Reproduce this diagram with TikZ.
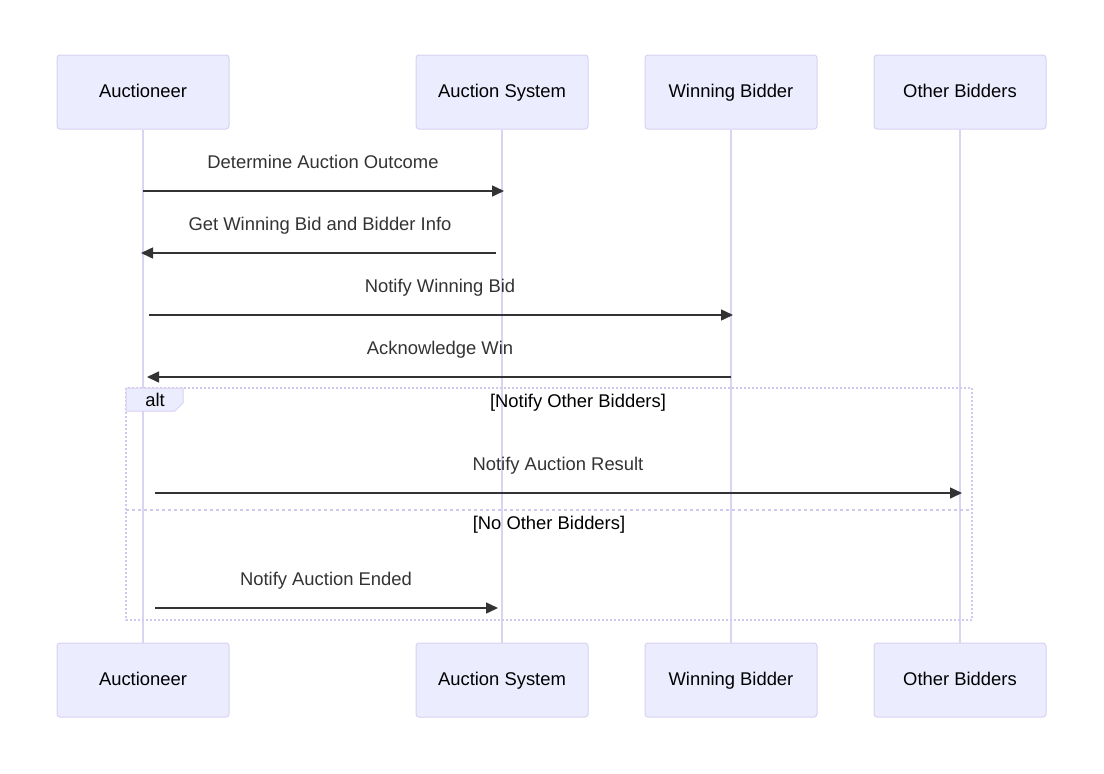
\documentclass[tikz,border=0pt]{standalone}
\usepackage{fontspec}
\setmainfont{Liberation Sans}
\usetikzlibrary{arrows.meta}
\definecolor{actfill}{HTML}{ECECFF}
\definecolor{actline}{HTML}{D9D0F2}
\definecolor{lifeline}{HTML}{DAD3F2}
\definecolor{msgtext}{HTML}{333333}
\definecolor{loopline}{HTML}{D0C8F0}
\begin{document}
\begin{tikzpicture}[x=1pt,y=-1pt,
  txt/.style={font=\fontsize{18.4}{22}\selectfont,text height=15.4pt,text depth=3.8pt},
  actor/.style={txt,draw=actline,fill=actfill,rounded corners=3pt,minimum width=172pt,minimum height=74pt,inner sep=0pt,text=black,line width=1pt},
  life/.style={draw=lifeline,line width=2pt},
  msg/.style={draw=msgtext,line width=1.5pt,-{Triangle[length=12pt,width=11pt]}},
  msglabel/.style={txt,text=msgtext,inner sep=0pt},
  frametext/.style={txt,text=black,inner sep=0pt},
  framebox/.style={draw=loopline,line width=2pt,dash pattern=on 2pt off 2pt},
  sep/.style={draw=loopline,line width=2pt,dash pattern=on 3pt off 3pt}]
\useasboundingbox (0,0) rectangle (1104,774);
% actors
\node[actor] (a1) at (143,92) {Auctioneer};
\node[actor] (a2) at (502,92) {Auction System};
\node[actor] (a3) at (731,92) {Winning Bidder};
\node[actor] (a4) at (960,92) {Other Bidders};
\node[actor] (b1) at (143,680) {Auctioneer};
\node[actor] (b2) at (502,680) {Auction System};
\node[actor] (b3) at (731,680) {Winning Bidder};
\node[actor] (b4) at (960,680) {Other Bidders};
% lifelines
\draw[life] (a1.south) -- (b1.north);
\draw[life] (a2.south) -- (b2.north);
\draw[life] (a3.south) -- (b3.north);
\draw[life] (a4.south) -- (b4.north);
% message endpoints
\coordinate (m1s) at (143,191); \coordinate (m1e) at (504,191);
\coordinate (m2s) at (496,253); \coordinate (m2e) at (141,253);
\coordinate (m3s) at (149,315); \coordinate (m3e) at (733,315);
\coordinate (m4s) at (731,377); \coordinate (m4e) at (147,377);
\coordinate (m5s) at (155,493); \coordinate (m5e) at (962,493);
\coordinate (m6s) at (155,608); \coordinate (m6e) at (498,608);
% messages
\node[msglabel] (l1) at (323,163) {Determine Auction Outcome};
\draw[msg] (m1s) -- (m1e);
\node[msglabel] (l2) at (320,225) {Get Winning Bid and Bidder Info};
\draw[msg] (m2s) -- (m2e);
\node[msglabel] (l3) at (440,287) {Notify Winning Bid};
\draw[msg] (m3s) -- (m3e);
\node[msglabel] (l4) at (440,349) {Acknowledge Win};
\draw[msg] (m4s) -- (m4e);
% alt frame
\draw[framebox] (126,388) rectangle (972,620);
\draw[draw=actline,fill=actfill,line width=1pt] (126,388) -- (183,388) -- (183,403) -- (175,411) -- (126,411) -- cycle;
\node[frametext] (alt) at (155,401) {alt};
\node[frametext] (c1) at (578,402) {[Notify Other Bidders]};
\draw[sep] (126,510) -- (972,510);
\node[frametext] (c2) at (549,524) {[No Other Bidders]};
\node[msglabel] (l5) at (558,465) {Notify Auction Result};
\draw[msg] (m5s) -- (m5e);
\node[msglabel] (l6) at (326,580) {Notify Auction Ended};
\draw[msg] (m6s) -- (m6e);
\end{tikzpicture}
\end{document}
